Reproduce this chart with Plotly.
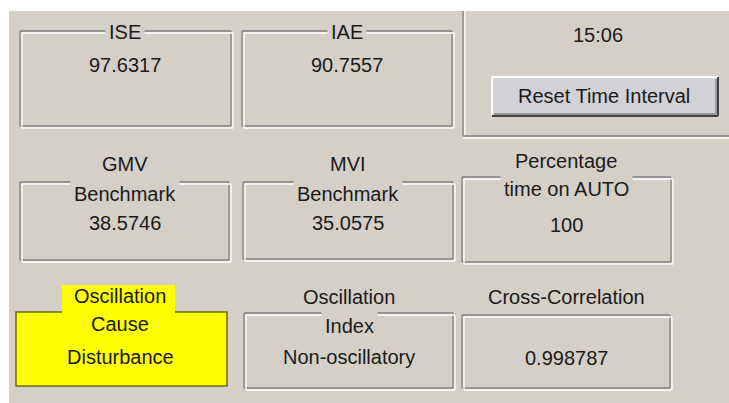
import plotly.graph_objects as go

# ---- data (texts shown in the panel) ----
panel_titles = [["ISE"], ["IAE"], ["GMV", "Benchmark"], ["MVI", "Benchmark"],
                ["Percentage", "time on AUTO"], ["Oscillation", "Cause"],
                ["Oscillation", "Index"], ["Cross-Correlation"]]
panel_values = ["97.6317", "90.7557", "38.5746", "35.0575", "100",
                "Disturbance", "Non-oscillatory", "0.998787"]
clock_text = "15:06"
button_text = "Reset Time Interval"

# ---- layout geometry (pixel coordinates) ----
W, H = 729, 403
boxes = [(20, 31, 231, 126), (242, 31, 452, 126), (20, 182, 229, 260), (243, 182, 453, 259),
         (462, 177, 671, 262), (16, 312, 227, 386), (244, 313, 453, 388), (462, 315, 670, 388)]
centers = [125, 347, 125, 348, 566, 120, 349, 566]
title_y = [[32], [32], [164, 194], [164, 194], [161, 189], [296, 324], [297, 326], [297]]
value_y = [65, 65, 223, 223, 225, 357, 357, 358]
title_bg_line = [0, 0, 1, 1, 1, None, 1, 0]  # which title line sits on the box border
yellow_panel = 5

BG = "#d4d0c8"
DARK = "#808080"
WHITE = "#ffffff"
FONT = dict(family="Liberation Sans, Arial, sans-serif", size=20, color="#1a1a1a")

fig = go.Figure()
shapes = []
annotations = []

def line(x0, y0, x1, y1, color, width=1.3):
    shapes.append(dict(type="line", x0=x0, y0=y0, x1=x1, y1=y1, xref="x", yref="y",
                       line=dict(color=color, width=width)))

def rect(x0, y0, x1, y1, fill, color=None, width=0):
    shapes.append(dict(type="rect", x0=x0, y0=y0, x1=x1, y1=y1, xref="x", yref="y",
                       fillcolor=fill, line=dict(color=color or fill, width=width), layer="below"))

# white margins of the screenshot
rect(0, 0, W, 11, WHITE)
rect(0, 0, 9, H, WHITE)

# right top panel frame (etched)
line(463, 11, 463, 136, DARK)
line(465, 11, 465, 136, WHITE)
line(463, 136, W, 136, DARK)
line(463, 138, W, 138, WHITE)

# group boxes
for i, (x0, y0, x1, y1) in enumerate(boxes):
    if i == yellow_panel:
        rect(x0, y0, x1, y1, "#ffff00", "#6b6b00", 1.5)
        rect(62, 285, 175, y0 + 1, "#ffff00")
        continue
    for (dx, col) in ((0, DARK), (2, WHITE)):
        line(x0 + dx, y0 + dx, x1 + dx, y0 + dx, col)
        line(x0 + dx, y0 + dx, x0 + dx, y1 + dx, col)
        line(x1 + dx, y0 + dx, x1 + dx, y1 + dx, col)
        line(x0 + dx, y1 + dx, x1 + dx, y1 + dx, col)

for i in range(len(boxes)):
    cx = centers[i]
    for j, (t, ty) in enumerate(zip(panel_titles[i], title_y[i])):
        on_border = title_bg_line[i] == j
        annotations.append(dict(x=cx, y=ty, xref="x", yref="y", text=t, showarrow=False,
                                font=FONT, xanchor="center", yanchor="middle",
                                bgcolor=BG if on_border else None, borderpad=3))
    annotations.append(dict(x=cx, y=value_y[i], xref="x", yref="y", text=panel_values[i],
                            showarrow=False, font=FONT, xanchor="center", yanchor="middle"))

# clock and button
annotations.append(dict(x=598, y=35, xref="x", yref="y", text=clock_text, showarrow=False,
                        font=FONT, xanchor="center", yanchor="middle"))
rect(492, 77, 718, 116, "#d2d1d6")
line(492, 77, 718, 77, WHITE, 2)
line(492, 77, 492, 116, WHITE, 2)
line(492, 116, 718, 116, "#404040", 2)
line(718, 77, 718, 116, "#404040", 2)
line(494, 114, 716, 114, DARK, 1.3)
line(716, 79, 716, 114, DARK, 1.3)
annotations.append(dict(x=604, y=96, xref="x", yref="y", text=button_text, showarrow=False,
                        font=FONT, xanchor="center", yanchor="middle"))

fig.update_layout(
    width=W, height=H, margin=dict(l=0, r=0, t=0, b=0),
    paper_bgcolor=BG, plot_bgcolor=BG,
    xaxis=dict(range=[0, W], visible=False, fixedrange=True),
    yaxis=dict(range=[H, 0], visible=False, fixedrange=True),
    shapes=shapes, annotations=annotations, showlegend=False,
)
fig.write_html("out.html", config={"displayModeBar": False, "staticPlot": True},
               post_script="document.body.style.margin='0';document.body.style.overflow='hidden';")
